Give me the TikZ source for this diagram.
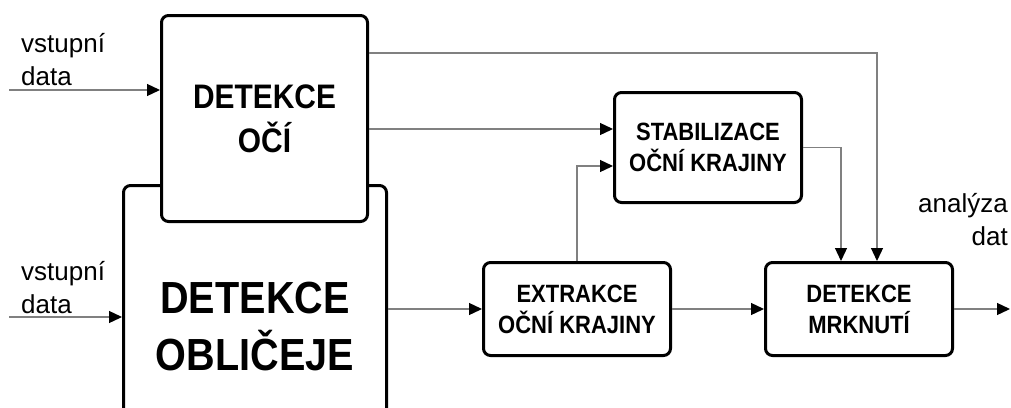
\documentclass[tikz,border=0pt]{standalone}
\usepackage{fontspec}
\setmainfont{Liberation Sans}
\newfontfamily\boxfont[FakeStretch=0.88]{Liberation Sans}
\usepackage{xcolor}
\usepackage{tikz}
\usetikzlibrary{arrows.meta,positioning}

\definecolor{wire}{RGB}{128,128,128}

\begin{document}
\begin{tikzpicture}[
  x=1pt, y=-1pt,
  block/.style={draw, line width=3pt, rounded corners=7pt, fill=white, align=center, inner sep=0pt},
  wirearrow/.style={draw=wire, line width=1.3pt, -{Triangle[length=13pt, width=12pt, color=black]}},
  label/.style={font=\fontsize{26}{33}\selectfont, inner sep=0pt}
]
\useasboundingbox (0,0) rectangle (1011,407);
\clip (0,0) rectangle (1011,407);

% blocks
\node[block, minimum width=263pt, minimum height=283pt,
      font=\boxfont\bfseries\fontsize{45}{57}\selectfont] (face) at (255,327) {DETEKCE\\OBLIČEJE};
\node[block, minimum width=206pt, minimum height=206pt,
      font=\boxfont\bfseries\fontsize{34}{44}\selectfont] (eye) at (264.5,118.5) {DETEKCE\\OČÍ};
\node[block, minimum width=187pt, minimum height=110pt,
      font=\boxfont\bfseries\fontsize{25}{31}\selectfont] (stab) at (708,147.5) {STABILIZACE\\OČNÍ KRAJINY};
\node[block, minimum width=187pt, minimum height=93pt,
      font=\boxfont\bfseries\fontsize{25}{31}\selectfont] (extr) at (577,309) {EXTRAKCE\\OČNÍ KRAJINY};
\node[block, minimum width=187pt, minimum height=93pt,
      font=\boxfont\bfseries\fontsize{25}{31}\selectfont] (blink) at (859,309) {DETEKCE\\MRKNUTÍ};

% inputs and output
\coordinate (in1) at (9,90);
\coordinate (in2) at (9,317);
\coordinate (out) at (1010,309);
\node[label, align=left, anchor=west] (lbl1) at (21,60) {vstupní\\data};
\node[label, align=left, anchor=west] (lbl2) at (21,288) {vstupní\\data};
\node[label, align=right, anchor=east] (lbl3) at (1008,220) {analýza\\dat};

\draw[wirearrow] (in1) -- (in1 -| eye.west);
\draw[wirearrow] (in2) -- (in2 -| face.west);

% connections
\coordinate (top) at (0,53);
\coordinate (s1) at ([yshift=18.5pt]stab.west);
\coordinate (s2) at ([yshift=-18.5pt]stab.west);
\draw[wirearrow] (eye.east |- top) -| ([xshift=18pt]blink.north);
\draw[wirearrow] (s1 -| eye.east) -- (s1);
\draw[wirearrow] (extr.north) |- (s2);
\draw[wirearrow] (stab.east) -| ([xshift=-18pt]blink.north);
\draw[wirearrow] (extr.west -| face.east) -- (extr.west);
\draw[wirearrow] (extr.east) -- (blink.west);
\draw[wirearrow] (blink.east) -- (out);
\end{tikzpicture}
\end{document}
